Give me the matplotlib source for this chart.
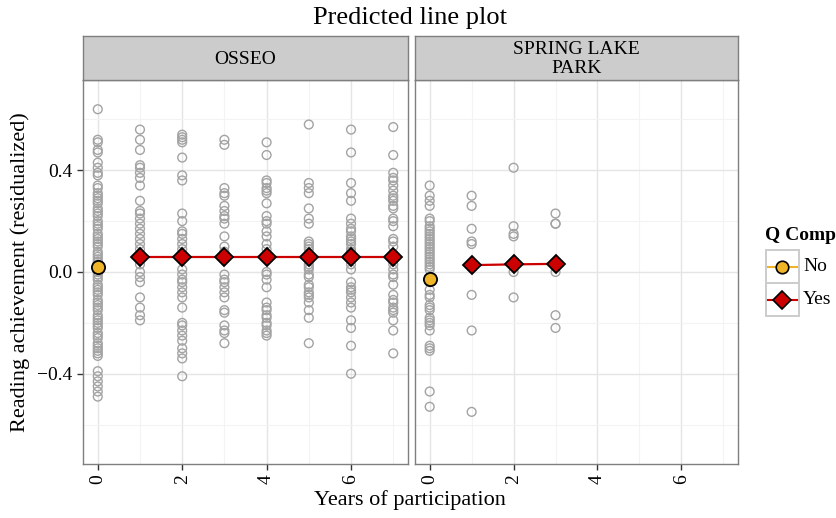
import matplotlib
matplotlib.use('Agg')
import matplotlib.pyplot as plt
from matplotlib.lines import Line2D
from matplotlib.patches import Rectangle

plt.rcParams['font.family'] = ['Liberation Serif', 'DejaVu Serif']

# ---------------- data ----------------
panels = ["OSSEO", "SPRING LAKE\nPARK"]

# observed residualized reading achievement, OSSEO, by years of participation
osseo_y0 = [0.64, 0.52, 0.51, 0.48, 0.47, 0.43, 0.41, 0.39, 0.38, 0.34, 0.33, 0.31, 0.30,
            0.29, 0.28, 0.27, 0.25, 0.24, 0.23, 0.22, 0.20, 0.19, 0.18, 0.17, 0.15, 0.14,
            0.13, 0.12, 0.11, 0.10, 0.08, 0.07, 0.06, 0.05, 0.04, 0.03, 0.01, 0.00, -0.01,
            -0.02, -0.03, -0.05, -0.06, -0.07, -0.08, -0.09, -0.11, -0.12, -0.13, -0.14,
            -0.15, -0.17, -0.18, -0.19, -0.20, -0.21, -0.22, -0.24, -0.25, -0.26, -0.28,
            -0.29, -0.30, -0.31, -0.32, -0.33, -0.39, -0.41, -0.43, -0.45, -0.47, -0.49]
osseo_y1 = [0.56, 0.52, 0.48, 0.42, 0.41, 0.39, 0.37, 0.34, 0.28, 0.24, 0.23, 0.21, 0.19,
            0.17, 0.15, 0.13, 0.11, 0.09, 0.07, 0.05, 0.03, 0.00, -0.02, -0.04, -0.10,
            -0.14, -0.17, -0.19]
osseo_y2 = [0.54, 0.53, 0.52, 0.51, 0.45, 0.38, 0.36, 0.23, 0.20, 0.16, 0.15, 0.13, 0.11,
            0.09, 0.07, 0.05, 0.01, -0.01, -0.03, -0.04, -0.06, -0.08, -0.10, -0.14, -0.20,
            -0.21, -0.23, -0.25, -0.27, -0.30, -0.32, -0.34, -0.41]
osseo_y3 = [0.52, 0.50, 0.33, 0.31, 0.30, 0.26, 0.24, 0.22, 0.21, 0.19, 0.14, 0.10, 0.08,
            0.05, -0.01, -0.03, -0.04, -0.06, -0.08, -0.10, -0.15, -0.16, -0.21, -0.23,
            -0.24, -0.28]
osseo_y4 = [0.51, 0.46, 0.36, 0.35, 0.33, 0.32, 0.31, 0.27, 0.22, 0.20, 0.19, 0.16, 0.14,
            0.11, 0.09, 0.07, 0.06, 0.00, -0.01, -0.03, -0.06, -0.12, -0.14, -0.15, -0.17,
            -0.18, -0.20, -0.21, -0.23, -0.24, -0.25]
osseo_y5 = [0.58, 0.35, 0.33, 0.31, 0.25, 0.21, 0.19, 0.12, 0.11, 0.10, 0.09, 0.07, 0.05,
            0.03, 0.02, 0.01, -0.01, -0.02, -0.05, -0.06, -0.08, -0.09, -0.10, -0.12, -0.15,
            -0.18, -0.28]
osseo_y6 = [0.56, 0.47, 0.35, 0.31, 0.28, 0.21, 0.19, 0.17, 0.16, 0.14, 0.13, 0.12, 0.11,
            0.09, 0.08, 0.06, 0.03, 0.01, -0.04, -0.06, -0.07, -0.08, -0.10, -0.12, -0.14,
            -0.19, -0.22, -0.29, -0.40]
osseo_y7 = [0.57, 0.46, 0.39, 0.37, 0.36, 0.34, 0.32, 0.30, 0.29, 0.28, 0.26, 0.25, 0.21,
            0.20, 0.18, 0.13, 0.12, 0.10, 0.07, 0.03, 0.01, -0.01, -0.02, -0.05, -0.09,
            -0.11, -0.12, -0.14, -0.15, -0.16, -0.19, -0.23, -0.32]

# observed, SPRING LAKE PARK
spl_y0 = [0.34, 0.30, 0.28, 0.26, 0.21, 0.20, 0.18, 0.17, 0.16, 0.15, 0.14, 0.13, 0.12,
          0.11, 0.10, 0.09, 0.08, 0.07, 0.06, 0.05, 0.04, 0.03, 0.02, 0.01, -0.04, -0.07,
          -0.09, -0.10, -0.13, -0.14, -0.15, -0.18, -0.19, -0.20, -0.21, -0.23, -0.29,
          -0.30, -0.31, -0.47, -0.53]
spl_y1 = [0.30, 0.26, 0.17, 0.12, 0.11, -0.09, -0.23, -0.55]
spl_y2 = [0.41, 0.18, 0.15, 0.14, 0.00, -0.10]
spl_y3 = [0.23, 0.19, 0.19, 0.02, 0.00, -0.17, -0.22]

osseo_obs = [osseo_y0, osseo_y1, osseo_y2, osseo_y3, osseo_y4, osseo_y5, osseo_y6, osseo_y7]
spl_obs = [spl_y0, spl_y1, spl_y2, spl_y3]

# predicted values
osseo_no_x = [0]
osseo_no_y = [0.02]
osseo_yes_x = [1, 2, 3, 4, 5, 6, 7]
osseo_yes_y = [0.06, 0.06, 0.06, 0.06, 0.06, 0.06, 0.06]
spl_no_x = [0]
spl_no_y = [-0.027]
spl_yes_x = [1, 2, 3]
spl_yes_y = [0.027, 0.030, 0.032]

x_ticks = [0, 2, 4, 6]
x_ticklabels = ["0", "2", "4", "6"]
y_ticks = [-0.4, 0.0, 0.4]
y_ticklabels = ["\u22120.4", "0.0", "0.4"]
legend_title = "Q Comp"
legend_labels = ["No", "Yes"]

# ---------------- styling ----------------
W, H = 837, 518
C_NO = '#F0B429'
C_YES = '#CC0000'
C_PT = '#A3A3A3'

fig = plt.figure(figsize=(W / 100, H / 100), dpi=100)


def fx(x):
    return x / W


def fy(y):
    return 1 - y / H


panel_px = [(83, 408), (415, 738)]
top_px, bot_px = 80, 464
strip_top = 36

obs_sets = [osseo_obs, spl_obs]
pred_sets = [((osseo_no_x, osseo_no_y), (osseo_yes_x, osseo_yes_y)),
             ((spl_no_x, spl_no_y), (spl_yes_x, spl_yes_y))]

for i, (l, r) in enumerate(panel_px):
    ax = fig.add_axes([fx(l), fy(bot_px), fx(r - l), (bot_px - top_px) / H])
    ax.set_xlim(-0.35, 7.35)
    ax.set_ylim(-0.755, 0.755)
    ax.set_facecolor('white')
    # grid
    ax.set_xticks(x_ticks)
    ax.set_xticks([1, 3, 5, 7], minor=True)
    ax.set_yticks(y_ticks)
    ax.set_yticks([-0.6, -0.2, 0.2, 0.6], minor=True)
    ax.grid(which='major', color='#E5E5E5', linewidth=1.0, zorder=0)
    ax.grid(which='minor', color='#F3F3F3', linewidth=0.8, zorder=0)
    ax.set_axisbelow(True)
    for s in ax.spines.values():
        s.set_color('#7F7F7F')
        s.set_linewidth(1.0)
    ax.tick_params(which='minor', length=0)
    ax.tick_params(which='major', length=4, width=1, color='#333333', labelsize=14)
    ax.set_xticklabels(x_ticklabels, rotation=90)
    if i == 0:
        ax.set_yticklabels(y_ticklabels)
    else:
        ax.tick_params(axis='y', which='both', left=False, labelleft=False)

    # observed points
    for xv, ys in enumerate(obs_sets[i]):
        ax.scatter([xv] * len(ys), ys, s=40, facecolors='none', edgecolors=C_PT,
                   linewidths=1.0, zorder=2)
    (nx, ny), (yx, yy) = pred_sets[i]
    ax.plot(nx, ny, color=C_NO, linewidth=1.5, zorder=3)
    ax.plot(nx, ny, linestyle='none', marker='o', markersize=9.5, markerfacecolor=C_NO,
            markeredgecolor='black', markeredgewidth=1.3, zorder=4)
    ax.plot(yx, yy, color=C_YES, linewidth=1.6, zorder=3)
    ax.plot(yx, yy, linestyle='none', marker='D', markersize=9.5, markerfacecolor=C_YES,
            markeredgecolor='black', markeredgewidth=1.3, zorder=4)

    # strip
    sax = fig.add_axes([fx(l), fy(top_px), fx(r - l), (top_px - strip_top) / H])
    sax.set_facecolor('#CCCCCC')
    sax.set_xticks([])
    sax.set_yticks([])
    for s in sax.spines.values():
        s.set_color('#7F7F7F')
        s.set_linewidth(1.0)
    sax.text(0.5, 0.47, panels[i], ha='center', va='center', fontsize=14,
             linespacing=1.15, transform=sax.transAxes)

# titles
fig.text(fx(410), fy(18), "Predicted line plot", ha='center', va='center', fontsize=19)
fig.text(fx(410), fy(500), "Years of participation", ha='center', va='center', fontsize=16)
fig.text(fx(20), fy(272), "Reading achievement (residualized)", ha='center', va='center',
         rotation=90, fontsize=16)

# legend
fig.text(fx(765), fy(235), legend_title, ha='left', va='center', fontsize=14,
         fontweight='bold')
key_rows = [(250, C_NO, 'o'), (283, C_YES, 'D')]
for (ytop, col, mk), lab in zip(key_rows, legend_labels):
    fig.add_artist(Rectangle((fx(766), fy(ytop + 33)), fx(33), 33 / H,
                             transform=fig.transFigure, facecolor='white',
                             edgecolor='#CCCCCC', linewidth=1.4))
    yc = fy(ytop + 16.5)
    fig.add_artist(Line2D([fx(768), fx(797)], [yc, yc], transform=fig.transFigure,
                          color=col, linewidth=1.5))
    fig.add_artist(Line2D([fx(782.5)], [yc], transform=fig.transFigure, marker=mk,
                          markersize=9, markerfacecolor=col,
                          markeredgecolor='black', markeredgewidth=1.2, linestyle='none'))
    fig.text(fx(803), yc, lab, ha='left', va='center', fontsize=14)

fig.savefig('out.png', dpi=100)
